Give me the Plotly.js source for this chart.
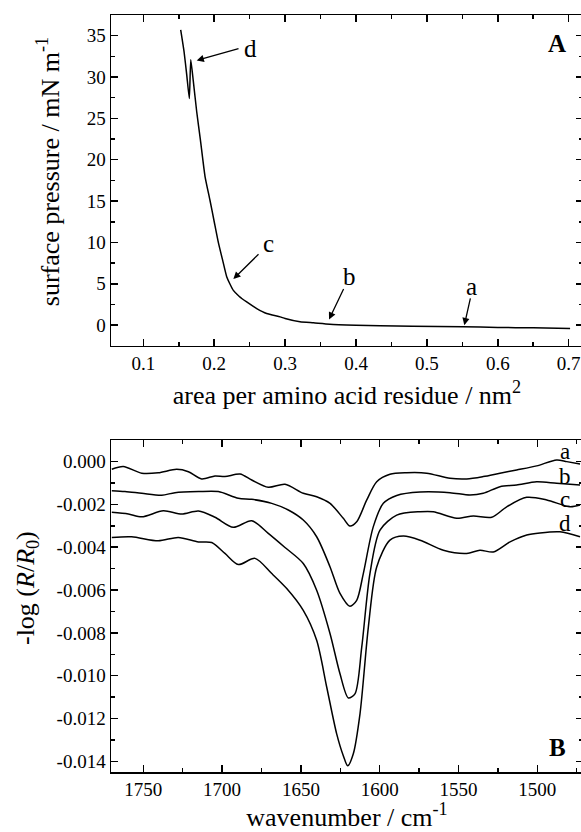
<!DOCTYPE html>
<html>
<head>
<meta charset="utf-8">
<script src="https://cdn.plot.ly/plotly-3.0.1.min.js"></script>
<style>
html,body{margin:0;padding:0;overflow:hidden;background:#fff;}
#chart{width:583px;height:832px;}
</style>
</head>
<body>
<div id="chart"></div>
<script>
// Panel A: surface pressure isotherm (compression order: large area -> small area)
const areaNm2 = [0.702, 0.65, 0.60, 0.551, 0.48, 0.434, 0.40, 0.363, 0.34, 0.321, 0.30, 0.293, 0.274, 0.26, 0.2458, 0.235, 0.227, 0.222, 0.2176, 0.212, 0.2058, 0.200, 0.194, 0.187, 0.1805, 0.1753, 0.1705, 0.1669, 0.1649, 0.1612, 0.1574, 0.1527];
const pressure = [-0.4, -0.33, -0.28, -0.2, -0.12, -0.08, 0.0, 0.12, 0.28, 0.4, 0.8, 1.0, 1.4, 2.0, 2.8, 3.5, 4.2, 5.0, 5.85, 7.8, 10, 12.5, 15.1, 18.0, 22.4, 25.8, 29.5, 32.1, 27.4, 30.3, 33.1, 35.7];

// Panel A arrow labels
const isoLabels = ["d", "c", "b", "a"];
const isoLabelX = [0.2505, 0.2759, 0.3915, 0.5632];
const isoLabelY = [33.5, 9.9, 5.85, 4.64];
const isoArrowX = [0.1753, 0.227, 0.362, 0.5528];
const isoArrowY = [32.0, 5.57, 0.69, 0.0];

// Panel B: IRRAS spectra
const wnA = [1770, 1762.7, 1751, 1740.5, 1728.8, 1721.4, 1713, 1704.5, 1698.2, 1688.6, 1681.2, 1670.7, 1660.1, 1648.5, 1640, 1631.5, 1623.1, 1618.9, 1614.6, 1608.2, 1601.9, 1593.5, 1582.9, 1570.2, 1555.4, 1544.8, 1534.3, 1523.7, 1513.1, 1500.4, 1487.7, 1481.3, 1472.9];
const specA = [-0.00036, -0.00023, -0.00054, -0.00052, -0.00036, -0.00047, -0.00081, -0.00067, -0.0007, -0.00058, -0.00086, -0.0012, -0.00106, -0.00148, -0.00164, -0.00195, -0.00265, -0.00301, -0.00281, -0.00179, -0.00094, -0.00059, -0.00052, -0.00054, -0.00078, -0.00081, -0.0007, -0.00054, -0.00039, -0.0002, 0.00008, 0.0, -0.00011];

const wnB = [1770, 1761.6, 1751, 1738.3, 1729.9, 1715, 1702.4, 1689.7, 1681.2, 1668.5, 1658, 1648.5, 1640, 1631.5, 1625.2, 1618.9, 1614.6, 1610.4, 1604.1, 1597.7, 1589.2, 1574.4, 1555.4, 1542.7, 1534.3, 1523.7, 1513.1, 1500.4, 1487.7, 1472.9];
const specB = [-0.00136, -0.0014, -0.00148, -0.00157, -0.00145, -0.0014, -0.0014, -0.00171, -0.00176, -0.00195, -0.00226, -0.00273, -0.00351, -0.00492, -0.00616, -0.00676, -0.00648, -0.00523, -0.00305, -0.00195, -0.00158, -0.00142, -0.00145, -0.00156, -0.00148, -0.00117, -0.00109, -0.00094, -0.00101, -0.00109];

const wnC = [1770, 1759.5, 1751, 1737.3, 1725.6, 1715, 1704.5, 1692.9, 1681.2, 1670.7, 1660.1, 1648.5, 1640, 1631.5, 1625.2, 1619.9, 1615.7, 1611.4, 1606.2, 1599.8, 1589.2, 1574.4, 1566, 1551.1, 1540.6, 1528.9, 1519.4, 1506.7, 1494, 1479.3, 1472.9];
const specC = [-0.00237, -0.00245, -0.00258, -0.0023, -0.00245, -0.00231, -0.0026, -0.00307, -0.00276, -0.00335, -0.00401, -0.00476, -0.00601, -0.00804, -0.00991, -0.01104, -0.01085, -0.00867, -0.00523, -0.0032, -0.0025, -0.00234, -0.00234, -0.00265, -0.00254, -0.0026, -0.00211, -0.00167, -0.00179, -0.00211, -0.00203];

const wnD = [1770, 1757.4, 1740.5, 1727.8, 1715, 1706.6, 1698.2, 1689.7, 1679.1, 1668.5, 1659, 1648.5, 1640, 1633.6, 1627.3, 1623.1, 1620.3, 1616.8, 1612.5, 1607.2, 1601.9, 1593.5, 1585, 1574.4, 1559.6, 1544.8, 1536.4, 1527.9, 1517.3, 1506.7, 1498.3, 1485.6, 1472.9];
const specD = [-0.00354, -0.00351, -0.0037, -0.00354, -0.00375, -0.00378, -0.00429, -0.00481, -0.00452, -0.00523, -0.00593, -0.00695, -0.00835, -0.01054, -0.01272, -0.01374, -0.01421, -0.01366, -0.01178, -0.00773, -0.00492, -0.00367, -0.00348, -0.00367, -0.00414, -0.00429, -0.00414, -0.00422, -0.00375, -0.00343, -0.00333, -0.00328, -0.00351];

const specLabels = ["a", "b", "c", "d"];
const specLabelX = [1482.4, 1482.4, 1482.4, 1482.4];
const specLabelY = [0.00047, -0.0007, -0.00176, -0.00288];

// Tick labels
const isoXTicks = [0.1, 0.2, 0.3, 0.4, 0.5, 0.6, 0.7];
const isoXTickText = ["0.1", "0.2", "0.3", "0.4", "0.5", "0.6", "0.7"];
const isoYTicks = [0, 5, 10, 15, 20, 25, 30, 35];
const isoYTickText = ["0", "5", "10", "15", "20", "25", "30", "35"];
const specXTicks = [1750, 1700, 1650, 1600, 1550, 1500];
const specXTickText = ["1750", "1700", "1650", "1600", "1550", "1500"];
const specYTicks = [0, -0.002, -0.004, -0.006, -0.008, -0.010, -0.012, -0.014];
const specYTickText = ["0.000", "-0.002", "-0.004", "-0.006", "-0.008", "-0.010", "-0.012", "-0.014"];

const FONT = "Liberation Serif, Times New Roman, serif";
const lineStyle = {color: "#000", width: 1.5};

// arrow tails (where each arrow starts, near its letter)
const arrowTailX = [0.2364, 0.2646, 0.3835, 0.5618];
const arrowTailY = [33.5, 8.75, 4.56, 3.43];

const traces = [
  {x: areaNm2, y: pressure, xaxis: "x", yaxis: "y", mode: "lines", line: Object.assign({shape: "spline", smoothing: 0.5}, lineStyle)},
  {x: wnA, y: specA, xaxis: "x2", yaxis: "y2", mode: "lines", line: Object.assign({shape: "spline", smoothing: 0.8}, lineStyle)},
  {x: wnB, y: specB, xaxis: "x2", yaxis: "y2", mode: "lines", line: Object.assign({shape: "spline", smoothing: 0.8}, lineStyle)},
  {x: wnC, y: specC, xaxis: "x2", yaxis: "y2", mode: "lines", line: Object.assign({shape: "spline", smoothing: 0.8}, lineStyle)},
  {x: wnD, y: specD, xaxis: "x2", yaxis: "y2", mode: "lines", line: Object.assign({shape: "spline", smoothing: 0.8}, lineStyle)}
];

function axisBase() {
  return {
    showline: true, linecolor: "#000", linewidth: 1.5, mirror: "ticks",
    ticks: "inside", ticklen: 7, tickwidth: 1.5, tickcolor: "#000",
    showgrid: false, zeroline: false,
    tickfont: {family: FONT, size: 19, color: "#000"}
  };
}

const annotations = [];
isoLabels.forEach((t, i) => {
  annotations.push({xref: "x", yref: "y", x: isoArrowX[i], y: isoArrowY[i], text: "",
    showarrow: true, arrowhead: 2, arrowsize: 1.1, arrowwidth: 1.3, arrowcolor: "#000",
    axref: "x", ayref: "y", ax: arrowTailX[i], ay: arrowTailY[i]});
  annotations.push({xref: "x", yref: "y", x: isoLabelX[i], y: isoLabelY[i], text: t, showarrow: false,
    font: {family: FONT, size: 25, color: "#000"}});
});
specLabels.forEach((t, i) => {
  annotations.push({xref: "x2", yref: "y2", x: specLabelX[i], y: specLabelY[i], text: t, showarrow: false,
    font: {family: FONT, size: 23, color: "#000"}});
});
annotations.push({xref: "x", yref: "y", x: 0.6835, y: 34.1, text: "<b>A</b>", showarrow: false,
  font: {family: FONT, size: 25, color: "#000"}});
annotations.push({xref: "x2", yref: "y2", x: 1487, y: -0.01335, text: "<b>B</b>", showarrow: false,
  font: {family: FONT, size: 25, color: "#000"}});
// y-axis titles (placed as rotated text to match the reference position)
annotations.push({xref: "paper", yref: "paper", x: -0.133, y: 0.7926, xanchor: "center", yanchor: "middle",
  textangle: -90, showarrow: false, text: "surface pressure / mN m<sup>-1</sup>",
  font: {family: FONT, size: 26, color: "#000"}});
annotations.push({xref: "paper", yref: "paper", x: -0.178, y: 0.243, xanchor: "center", yanchor: "middle",
  textangle: -90, showarrow: false, text: "-log (<i>R</i>/<i>R</i><sub>0</sub>)",
  font: {family: FONT, size: 26, color: "#000"}});

const layout = {
  width: 583, height: 832,
  margin: {l: 111, r: 0, t: 15, b: 60},
  paper_bgcolor: "#fff", plot_bgcolor: "#fff",
  showlegend: false,
  font: {family: FONT, color: "#000"},
  xaxis: Object.assign(axisBase(), {
    domain: [0, 1], anchor: "y", range: [0.0544, 0.7202],
    tickvals: isoXTicks, ticktext: isoXTickText,
    minor: {ticks: "inside", ticklen: 4, tickwidth: 1.5, tickcolor: "#000", dtick: 0.05, tick0: 0},
    title: {text: "area per amino acid residue / nm<sup>2</sup>", font: {family: FONT, size: 26, color: "#000"}, standoff: 12}
  }),
  yaxis: Object.assign(axisBase(), {
    domain: [0.563, 1], anchor: "x", range: [-2.5, 37.5],
    tickvals: isoYTicks, ticktext: isoYTickText,
    minor: {ticks: "inside", ticklen: 4, tickwidth: 1.5, tickcolor: "#000", dtick: 2.5, tick0: 0}
  }),
  xaxis2: Object.assign(axisBase(), {
    domain: [0, 1], anchor: "y2", range: [1770.5, 1471],
    tickvals: specXTicks, ticktext: specXTickText,
    minor: {ticks: "inside", ticklen: 4, tickwidth: 1.5, tickcolor: "#000", dtick: 25, tick0: 0},
    title: {text: "wavenumber / cm<sup>-1</sup>", font: {family: FONT, size: 26, color: "#000"}, standoff: 10}
  }),
  yaxis2: Object.assign(axisBase(), {
    domain: [0, 0.4383], anchor: "x2", range: [-0.0145, 0.001],
    tickvals: specYTicks, ticktext: specYTickText,
    minor: {ticks: "inside", ticklen: 4, tickwidth: 1.5, tickcolor: "#000", dtick: 0.001, tick0: 0}
  }),
  annotations: annotations
};

Plotly.newPlot("chart", traces, layout, {staticPlot: true, displayModeBar: false});
</script>
</body>
</html>
